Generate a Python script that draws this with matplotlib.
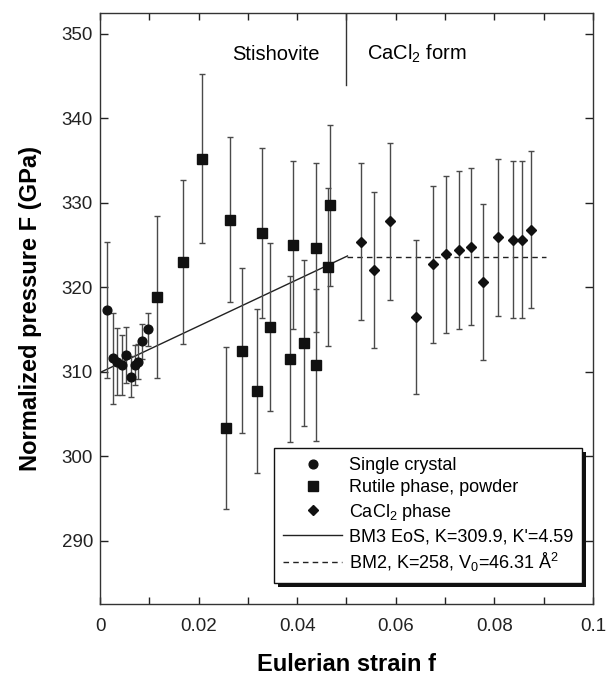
import matplotlib

matplotlib.use("Agg")
import matplotlib.pyplot as plt
from matplotlib.lines import Line2D
from matplotlib.patches import Rectangle
from matplotlib.transforms import IdentityTransform

plt.rcParams["font.family"] = ["Liberation Sans", "DejaVu Sans"]
plt.rcParams["mathtext.fontset"] = "custom"
plt.rcParams["mathtext.rm"] = "Liberation Sans"
plt.rcParams["mathtext.it"] = "Liberation Sans"

# single crystal data
sc_f = [0.00136, 0.0026, 0.0035, 0.0045, 0.0053, 0.0062, 0.0070, 0.0078, 0.0085, 0.0098]
sc_F = [317.3, 311.6, 311.2, 310.8, 312.0, 309.4, 310.8, 311.2, 313.6, 315.0]
sc_err = [8.0, 5.4, 4.0, 3.5, 3.3, 2.4, 2.4, 2.1, 2.1, 2.0]

# rutile phase, powder
rp_f = [0.0116, 0.0169, 0.0206, 0.0256, 0.0263, 0.0288, 0.0318, 0.0329,
        0.0345, 0.0386, 0.0391, 0.0414, 0.0439, 0.0439, 0.0463, 0.0467]
rp_F = [318.8, 323.0, 335.2, 303.3, 328.0, 312.5, 307.7, 326.4,
        315.3, 311.5, 325.0, 313.4, 310.8, 324.7, 322.4, 329.7]
rp_err = [9.6, 9.7, 10.0, 9.6, 9.8, 9.8, 9.7, 10.1,
          9.9, 9.8, 10.0, 9.8, 9.0, 10.0, 9.3, 9.5]

# CaCl2 phase
cc_f = [0.0529, 0.0555, 0.0589, 0.0640, 0.0675, 0.0702, 0.0728,
        0.0752, 0.0776, 0.0807, 0.0838, 0.0857, 0.0874]
cc_F = [325.4, 322.0, 327.8, 316.5, 322.7, 323.9, 324.4,
        324.8, 320.6, 325.9, 325.6, 325.6, 326.8]
cc_err = [9.3, 9.25, 9.3, 9.1, 9.3, 9.3, 9.3, 9.3, 9.2, 9.3, 9.3, 9.3, 9.3]

# fits
bm3_f = [0.0, 0.0502]
bm3_F = [309.9, 323.7]
bm2_f = [0.0502, 0.0905]
bm2_F = [323.6, 323.6]

x_ticks = [0, 0.02, 0.04, 0.06, 0.08, 0.1]
x_ticklabels = ["0", "0.02", "0.04", "0.06", "0.08", "0.1"]
y_ticks = [290, 300, 310, 320, 330, 340, 350]

fig = plt.figure(figsize=(6.08, 6.75), dpi=100)
ax = fig.add_axes([0.1645, 0.1052, 0.8108, 0.876])

ink = "#111111"
ebar = dict(ecolor="#4a4a4a", elinewidth=1.0, capsize=2.5, capthick=1.0, linestyle="none")
ax.errorbar(sc_f, sc_F, yerr=sc_err, fmt="o", color=ink, markersize=6.3, zorder=3, **ebar)
ax.errorbar(rp_f, rp_F, yerr=rp_err, fmt="s", color=ink, markersize=6.5, zorder=3, **ebar)
ax.errorbar(cc_f, cc_F, yerr=cc_err, fmt="D", color=ink, markersize=5.6, zorder=3, **ebar)
ax.plot(bm3_f, bm3_F, color="#222222", lw=1.0)
ax.plot(bm2_f, bm2_F, color="#222222", lw=1.0, dashes=(4, 3))

# phase boundary marker
ax.plot([0.05, 0.05], [343.9, 352.5], color="#333333", lw=1.0)
ax.text(0.0445, 347.6, "Stishovite", ha="right", va="center", fontsize=14.5)
ax.text(0.0542, 347.6, "CaCl$_2$ form", ha="left", va="center", fontsize=14.5)

ax.set_xlim(0, 0.1)
ax.set_ylim(282.5, 352.5)
ax.set_xticks(x_ticks)
ax.set_xticklabels(x_ticklabels)
ax.set_xticks([0.01, 0.03, 0.05, 0.07, 0.09], minor=True)
ax.set_yticks(y_ticks)
ax.tick_params(axis="both", which="both", direction="in", top=True, right=True,
               labelsize=13.5, colors="#222222", width=1.0)
ax.tick_params(axis="x", which="both", length=5, pad=10)
ax.tick_params(axis="y", which="both", length=6, pad=5)
for sp in ax.spines.values():
    sp.set_color("#333333")
    sp.set_linewidth(1.0)

ax.set_xlabel("Eulerian strain f", fontsize=17, fontweight="bold", labelpad=13)
ax.set_ylabel("Normalized pressure F (GPa)", fontsize=17, fontweight="bold", labelpad=14)

handles = [
    Line2D([], [], ls="none", marker="o", ms=6.3, color=ink),
    Line2D([], [], ls="none", marker="s", ms=6.5, color=ink),
    Line2D([], [], ls="none", marker="D", ms=5.6, color=ink),
    Line2D([], [], color="#222222", lw=1.0),
    Line2D([], [], color="#222222", lw=1.0, dashes=(4, 3)),
]
labels = [
    "Single crystal",
    "Rutile phase, powder",
    "CaCl$_2$ phase",
    "BM3 EoS, K=309.9, K'=4.59",
    "BM2, K=258, V$_0$=46.31 Å$^2$",
]
leg = ax.legend(handles, labels, loc="lower right", bbox_to_anchor=(0.978, 0.036),
                fontsize=13, frameon=True, fancybox=False, framealpha=1.0,
                handlelength=3.3, handletextpad=0.35, labelspacing=0.3,
                borderpad=0.5, borderaxespad=0.0)
leg.get_frame().set_edgecolor(ink)
leg.get_frame().set_linewidth(1.0)
leg.set_zorder(6)

# solid drop shadow behind the legend box
fig.canvas.draw()
bb = leg.get_window_extent()
shadow = Rectangle((bb.x0 + 4, bb.y0 - 4), bb.width, bb.height, transform=IdentityTransform(),
                   facecolor=ink, edgecolor="none", zorder=5.5, clip_on=False)
ax.add_artist(shadow)

fig.savefig("out.png", dpi=100)
plt.close(fig)
